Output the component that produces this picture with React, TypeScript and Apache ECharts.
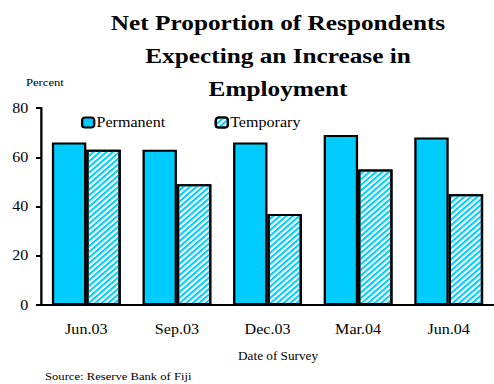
import React, { useEffect, useRef } from "react";
import * as echarts from "echarts";

const categories = ["Jun.03", "Sep.03", "Dec.03", "Mar.04", "Jun.04"];
const permanent = [66, 63, 66, 69, 68];
const temporary = [63, 49, 37, 55, 45];
const yTicks = { min: 0, max: 80, interval: 20 };

const FONT = "Times New Roman, Liberation Serif, serif";
const CYAN = "#00CCFF";
const INNER_W = 430;
const SX = 494 / INNER_W;

export default function App() {
  const ref = useRef<HTMLDivElement>(null);
  useEffect(() => {
    document.body.style.margin = "0";
    const chart = echarts.init(ref.current!, null, { renderer: "svg" });
    chart.setOption({
      animation: false,
      backgroundColor: "#fff",
      textStyle: { fontFamily: FONT, color: "#000" },
      title: {
        text: "Net Proportion of Respondents\nExpecting an Increase in\nEmployment",
        left: 242,
        top: 6.5,
        padding: 0,
        textAlign: "center",
        textStyle: { fontFamily: FONT, fontSize: 22, fontWeight: "bold", color: "#000", lineHeight: 33 },
      },
      legend: {
        left: 70.5,
        top: 115.5,
        padding: 0,
        itemWidth: 10.5,
        itemHeight: 10,
        itemGap: 43,
        textStyle: { fontFamily: FONT, fontSize: 14, color: "#000", padding: [0, 0, 0, -3] },
        data: ["Permanent", "Temporary"],
      },
      grid: { left: 35.7, right: -7.9, top: 108, bottom: 79 },
      xAxis: {
        type: "category",
        data: categories,
        axisLine: { lineStyle: { color: "#000", width: 2 } },
        axisTick: { alignWithLabel: false, length: 5, lineStyle: { color: "#000", width: 2 } },
        axisLabel: { fontFamily: FONT, fontSize: 14, color: "#000", margin: 17 },
      },
      yAxis: {
        type: "value",
        min: yTicks.min,
        max: yTicks.max,
        interval: yTicks.interval,
        splitLine: { show: false },
        axisLine: { show: true, lineStyle: { color: "#000", width: 2 } },
        axisTick: { show: true, length: 4.4, lineStyle: { color: "#000", width: 2 } },
        axisLabel: { fontFamily: FONT, fontSize: 14, color: "#000", margin: 11 },
      },
      series: [
        {
          name: "Permanent",
          type: "bar",
          data: permanent,
          barGap: "0%",
          barCategoryGap: "24%",
          itemStyle: { color: CYAN, borderColor: "#000", borderWidth: 2 },
        },
        {
          name: "Temporary",
          type: "bar",
          data: temporary,
          barGap: "0%",
          barCategoryGap: "24%",
          itemStyle: {
            color: "#fff",
            borderColor: "#000",
            borderWidth: 2,
            decal: {
              symbol: "rect",
              symbolSize: 1,
              dashArrayX: [1, 0],
              dashArrayY: [2, 2],
              rotation: -Math.PI / 4,
              color: CYAN,
              backgroundColor: "#fff",
            },
          },
        },
      ],
      graphic: [
        { type: "text", left: 22.6, top: 77, style: { text: "Percent", fontFamily: FONT, fontSize: 11, fill: "#000" } },
        { type: "text", x: 242, y: 356, style: { text: "Date of Survey", fontFamily: FONT, fontSize: 11.5, fill: "#000", align: "center", verticalAlign: "middle" } },
        { type: "text", left: 39.2, top: 371, style: { text: "Source: Reserve Bank of Fiji", fontFamily: FONT, fontSize: 11, fill: "#000" } },
      ],
    });
    return () => chart.dispose();
  }, []);
  return (
    <div style={{ width: 494, height: 384, overflow: "hidden" }}>
      <div
        ref={ref}
        style={{ width: INNER_W, height: 384, transform: `scaleX(${SX})`, transformOrigin: "0 0" }}
      />
    </div>
  );
}
